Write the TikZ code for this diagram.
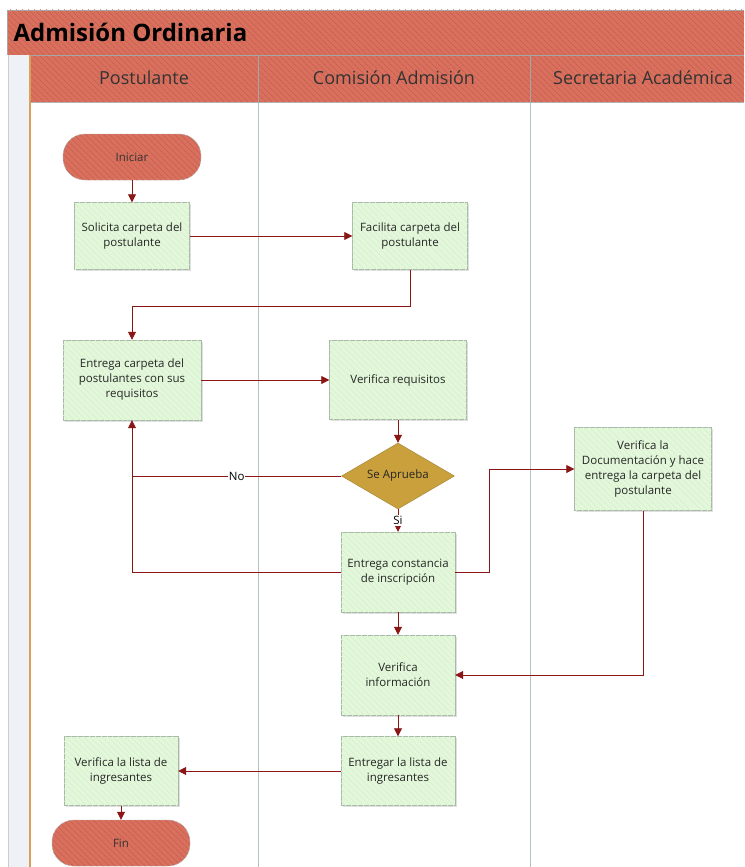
\documentclass[tikz,border=0pt]{standalone}
\usepackage{fontspec}
\setmainfont{Open Sans}
\usetikzlibrary{arrows.meta,patterns.meta,shapes.geometric,shadows}

\definecolor{salmon}{HTML}{D9705E}
\definecolor{salmondark}{HTML}{C8604F}
\definecolor{procgreen}{HTML}{E3F7DB}
\definecolor{procstripe}{HTML}{D6F0CC}
\definecolor{procline}{HTML}{A9B9A9}
\definecolor{gold}{HTML}{C9A03C}
\definecolor{flowred}{HTML}{8B1616}
\definecolor{lanegray}{HTML}{B5C4BE}
\definecolor{stripbg}{HTML}{EEF2F7}
\definecolor{stripedge}{HTML}{D9A05B}

\tikzset{
  stripes/.style={postaction={pattern={Lines[angle=-45,distance=4pt,line width=0.7pt]}, pattern color=#1}},
  proc/.style={rectangle, draw=procline, fill=procgreen, stripes=procstripe,
    align=center, inner sep=2pt, text=black!85,
    font=\fontsize{11.5}{15}\selectfont,
    drop shadow={shadow xshift=1.5pt, shadow yshift=-1.5pt, opacity=0.25}},
  term/.style={rectangle, rounded corners=22pt, draw=gray!60, fill=salmon, stripes=salmondark,
    minimum width=138pt, minimum height=46pt, text=black!80,
    font=\fontsize{11.5}{15}\selectfont},
  decision/.style={diamond, fill=gold, draw=gold!80!black, aspect=1.7, inner sep=0pt,
    minimum width=113pt, minimum height=66pt, text=black!85,
    font=\fontsize{11.5}{15}\selectfont},
  flow/.style={draw=flowred, line width=0.8pt, -{Triangle[length=8pt,width=8pt]}},
  flowline/.style={draw=flowred, line width=0.8pt},
  lane/.style={font=\fontsize{18}{22}\selectfont, text=black!80}
}

\begin{document}
\begin{tikzpicture}[x=1pt, y=-1pt]

\useasboundingbox (0,0) rectangle (744,867);
\fill[white] (0,0) rectangle (744,867);

% Left strip and lanes
\fill[stripbg] (8,55) rectangle (30,867);
\draw[gray!40] (8,55) -- (8,867);
\foreach \x in {258,530}
  \draw[lanegray, line width=0.8pt] (\x,55) -- (\x,867);

% Title bar and lane headers
\path[fill=salmon, stripes=salmondark] (7,10) rectangle (744,55);
\draw[gray!70] (744,10) -- (7,10) -- (7,55);
\path[fill=salmon, stripes=salmondark] (30,55) rectangle (744,102);
\draw[gray!70] (30,55) -- (744,55);
\draw[gray!60, line width=0.8pt] (30,102) -- (744,102);
\foreach \x in {258,530}
  \draw[gray!70] (\x,55) -- (\x,102);
\draw[stripedge, line width=1.2pt] (30,55) -- (30,867);

\node[anchor=west, font=\bfseries\fontsize{24}{28}\selectfont] (title) at (10,32) {Admisión Ordinaria};
\node[lane] (postulante) at (144,78) {Postulante};
\node[lane] (comision) at (394,78) {Comisión Admisión};
\node[lane] (secretaria) at (643,78) {Secretaria Académica};

% Nodes
\node[term] (iniciar) at (132,157) {Iniciar};
\node[proc, minimum width=115pt, minimum height=67pt] (solicita) at (132,236) {Solicita carpeta del\\postulante};
\node[proc, minimum width=115pt, minimum height=67pt] (facilita) at (410,236) {Facilita carpeta del\\postulante};
\node[proc, minimum width=138pt, minimum height=80pt] (entrega) at (132,380) {Entrega carpeta del\\postulantes con sus\\requisitos};
\node[proc, minimum width=137pt, minimum height=79pt] (requisitos) at (398,380) {Verifica requisitos};
\node[decision] (aprueba) at (398,476) {Se Aprueba};
\node[proc, minimum width=114pt, minimum height=80pt] (constancia) at (398,572) {Entrega constancia\\de inscripción};
\node[proc, minimum width=137pt, minimum height=83pt] (documentacion) at (643,469) {Verifica la\\Documentación y hace\\entrega la carpeta del\\postulante};
\node[proc, minimum width=114pt, minimum height=80pt] (informacion) at (398,675) {Verifica\\información};
\node[proc, minimum width=114pt, minimum height=69pt] (entregar) at (398,771) {Entregar la lista de\\ingresantes};
\node[proc, minimum width=114pt, minimum height=69pt] (verlista) at (121,771) {Verifica la lista de\\ingresantes};
\node[term] (fin) at (121,843) {Fin};

% Connectors
\draw[flow] (iniciar) -- (solicita);
\draw[flow] (solicita) -- (facilita);
\draw[flow] (facilita.south) -- ++(0,37) -| (entrega.north);
\draw[flow] (entrega) -- (requisitos);
\draw[flow] (requisitos) -- (aprueba);
\draw[flow] (aprueba.west) -| node[pos=0.25, fill=white, inner sep=1pt, font=\fontsize{11.5}{13}\selectfont] {No} (entrega.south);
\draw[flowline] (constancia.west) -| (aprueba.west -| entrega.south);
\draw[flow] (aprueba) -- node[fill=white, inner sep=1pt, font=\fontsize{11.5}{13}\selectfont] {Si} (constancia);
\draw[flow] (constancia.east) -- ++(34,0) |- (documentacion.west);
\draw[flow] (documentacion.south) |- (informacion.east);
\draw[flow] (constancia) -- (informacion);
\draw[flow] (informacion) -- (entregar);
\draw[flow] (entregar) -- (verlista);
\draw[flow] (verlista) -- (fin);

\end{tikzpicture}
\end{document}
